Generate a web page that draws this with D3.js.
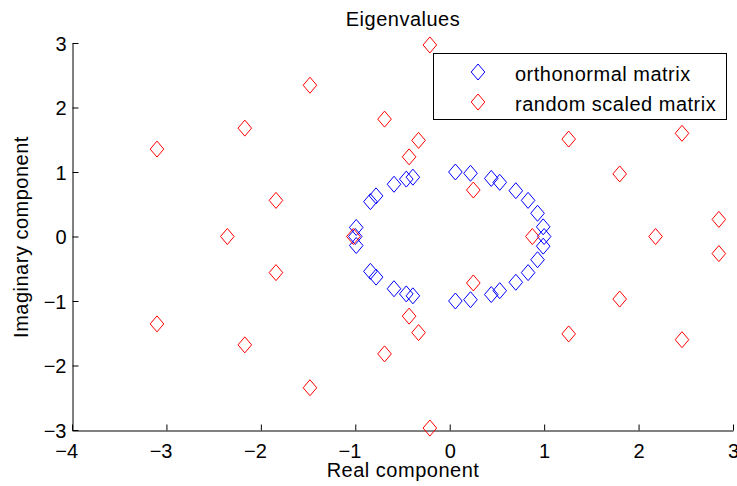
<!DOCTYPE html>
<html>
<head>
<meta charset="utf-8">
<script src="https://cdn.jsdelivr.net/npm/d3@7"></script>
<style>
  html, body { margin: 0; padding: 0; background: #fff; }
  svg text { font-family: "Liberation Sans", Arial, Helvetica, sans-serif; fill: #000; }
</style>
</head>
<body>
<svg id="chart" width="737" height="486"></svg>
<script>
// Eigenvalues of an orthonormal matrix (all on the unit circle)
const orthoReal = [
  -1.00, -0.99, -0.99, -0.84, -0.84, -0.78, -0.78, -0.59, -0.59, -0.46, -0.46, -0.39, -0.39,
   0.06,  0.06,  0.22,  0.22,  0.44,  0.44,  0.53,  0.53,  0.70,  0.70,  0.83,  0.83,
   0.93,  0.93,  0.99,  0.99,  1.00
];
const orthoImag = [
   0.00,  0.14, -0.14,  0.54, -0.54,  0.63, -0.63,  0.81, -0.81,  0.89, -0.89,  0.92, -0.92,
   1.00, -1.00,  0.98, -0.98,  0.90, -0.90,  0.84, -0.84,  0.71, -0.71,  0.56, -0.56,
   0.36, -0.36,  0.15, -0.15,  0.00
];

// Eigenvalues of a random matrix, scaled
const randReal = [
  -3.10, -3.10, -2.17, -2.17, -1.48, -1.48, -2.355, -1.84, -1.84,
  -0.69, -0.69, -0.43, -0.43, -0.33, -0.33, -0.21, -0.21, -1.02,
   0.25,  0.25,  0.875, 1.26,  1.26,  1.80,  1.80,  2.18,
   2.46,  2.46,  2.85,  2.85
];
const randImag = [
   1.355, -1.355, 1.68, -1.68, 2.345, -2.345, 0.00, 0.56, -0.56,
   1.82, -1.82, 1.235, -1.235, 1.49, -1.49, 2.97, -2.97, 0.00,
   0.72, -0.72, 0.00, 1.51, -1.51, 0.97, -0.97, 0.00,
   1.60, -1.60, 0.265, -0.265
];

const xTicks = [-4, -3, -2, -1, 0, 1, 2, 3];
const yTicks = [-3, -2, -1, 0, 1, 2, 3];

const seriesNames = ["orthonormal matrix", "random scaled matrix"];
const seriesColors = ["#0000ff", "#ff0000"];

const svg = d3.select("#chart");
const fontSize = 20;
const letterSpacing = 0.5;

const x = d3.scaleLinear().domain([-4, 3]).range([72, 733]);
const y = d3.scaleLinear().domain([-3, 3]).range([430, 43]);

// open diamond marker centred on (0,0)
const hw = 6.8, hh = 8;
const diamond = `M0,${-hh}L${hw},0L0,${hh}L${-hw},0Z`;

// axes (ticks point inward, no box)
const xAxis = d3.axisBottom(x).tickValues(xTicks).tickFormat(d3.format("d"))
  .tickSizeInner(-6).tickSizeOuter(0).tickPadding(13);
const yAxis = d3.axisLeft(y).tickValues(yTicks).tickFormat(d3.format("d"))
  .tickSizeInner(-6).tickSizeOuter(0).tickPadding(6);

const gx = svg.append("g").attr("transform", "translate(0,430.5)").call(xAxis);
const gy = svg.append("g").attr("transform", "translate(72.5,0)").call(yAxis);

[gx, gy].forEach(g => {
  g.select(".domain").attr("stroke", "#000").attr("stroke-width", 1);
  g.selectAll(".tick line").attr("stroke", "#000").attr("stroke-width", 1);
  g.selectAll(".tick text")
    .attr("font-size", fontSize)
    .attr("font-family", "Liberation Sans, Arial, sans-serif")
    .attr("fill", "#000");
});
// x labels: digit centred on its tick, minus sign hanging to the left
gx.selectAll(".tick text").attr("text-anchor", "end").attr("x", fontSize * 0.278);
gy.selectAll(".tick text").attr("dy", "0.35em");

// data points
const plot = svg.append("g");
const seriesData = [
  d3.zip(orthoReal, orthoImag),
  d3.zip(randReal, randImag)
];
seriesData.forEach((pts, i) => {
  plot.selectAll(null).data(pts).enter().append("path")
    .attr("d", diamond)
    .attr("transform", d => `translate(${x(d[0])},${y(d[1])})`)
    .attr("fill", "none")
    .attr("stroke", seriesColors[i])
    .attr("stroke-width", 1);
});

// title and axis labels
svg.append("text")
  .attr("x", 403).attr("y", 26)
  .attr("text-anchor", "middle")
  .attr("font-size", fontSize).attr("letter-spacing", letterSpacing)
  .text("Eigenvalues");

svg.append("text")
  .attr("x", 403).attr("y", 477)
  .attr("text-anchor", "middle")
  .attr("font-size", fontSize).attr("letter-spacing", letterSpacing)
  .text("Real component");

svg.append("text")
  .attr("transform", "translate(28,237) rotate(-90)")
  .attr("text-anchor", "middle")
  .attr("font-size", fontSize).attr("letter-spacing", letterSpacing)
  .text("Imaginary component");

// legend
const legend = svg.append("g");
legend.append("rect")
  .attr("x", 433.5).attr("y", 53.5).attr("width", 293).attr("height", 66)
  .attr("fill", "#fff").attr("stroke", "#000").attr("stroke-width", 1);
seriesNames.forEach((name, i) => {
  const cy = 72 + i * 30;
  legend.append("path")
    .attr("d", diamond)
    .attr("transform", `translate(478,${cy})`)
    .attr("fill", "none").attr("stroke", seriesColors[i]).attr("stroke-width", 1);
  legend.append("text")
    .attr("x", 515).attr("y", cy + 9)
    .attr("font-size", fontSize).attr("letter-spacing", letterSpacing)
    .text(name);
});
</script>
</body>
</html>
